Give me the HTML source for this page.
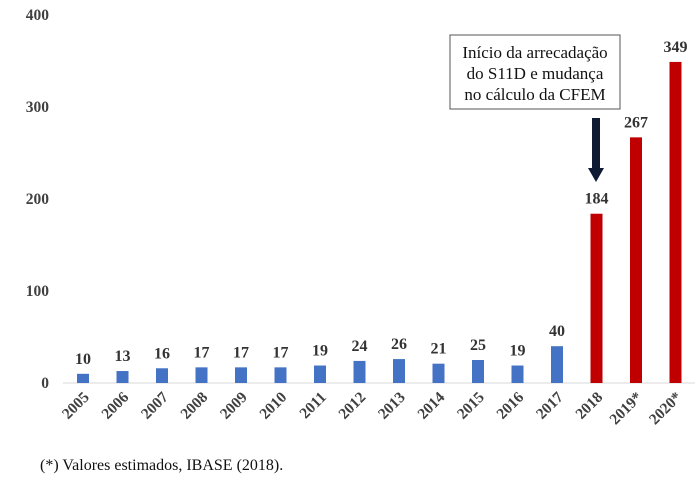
<!DOCTYPE html>
<html><head><meta charset="utf-8"><style>
body{margin:0;background:#fff;}
svg{display:block;font-family:"Liberation Serif",serif;}
</style></head><body>
<svg id="chart" width="700" height="489" viewBox="0 0 700 489">
<line x1="63" y1="383" x2="695" y2="383" stroke="#d9d9d9" stroke-width="1"/>
<g id="yticks"></g><g id="bars"></g>
<g>
<rect x="450" y="35" width="170" height="74" fill="#fff" stroke="#555" stroke-width="1"/>
<text x="535" y="58" text-anchor="middle" font-size="17" fill="#111">Início da arrecadação</text>
<text x="535" y="79" text-anchor="middle" font-size="17" fill="#111">do S11D e mudança</text>
<text x="535" y="100" text-anchor="middle" font-size="17" fill="#111">no cálculo da CFEM</text>
<path d="M592 118 H600 V168 H604 L596 182 L588 168 H592 Z" fill="#0f1a33"/>
</g>
<text x="40" y="470" font-size="16" fill="#111">(*) Valores estimados, IBASE (2018).</text>
</svg>
<script>
const categories=["2005","2006","2007","2008","2009","2010","2011","2012","2013","2014","2015","2016","2017","2018","2019*","2020*"];
const values=[10,13,16,17,17,17,19,24,26,21,25,19,40,184,267,349];
const yTicks=[0,100,200,300,400];
const ns="http://www.w3.org/2000/svg";
const y=v=>383-v*0.92;
const x=i=>83+i*39.5;
const yt=document.getElementById('yticks'), bg=document.getElementById('bars');
function mk(tag,attrs,parent,txt){const e=document.createElementNS(ns,tag);for(const k in attrs)e.setAttribute(k,attrs[k]);if(txt!==undefined)e.textContent=txt;parent.appendChild(e);return e;}
yTicks.forEach(t=>{
 const e=mk('text',{x:49,y:y(t)+5,'text-anchor':'end','font-size':15.5,'font-weight':'bold',fill:'#404040'},yt,String(t));
 
 
});
categories.forEach((c,i)=>{
 const red=i>=13;
 const r=mk('rect',{x:x(i)-6,y:y(values[i]),width:12,height:values[i]*0.92,fill:red?'#c00000':'#4472c4'},bg);
 
 
 const l=mk('text',{x:x(i),y:y(values[i])-10,'text-anchor':'middle','font-size':16,'font-weight':'bold',fill:'#333'},bg,String(values[i]));
 
 
 const xl=mk('text',{x:0,y:0,'text-anchor':'end','font-size':15.5,'font-weight':'bold',fill:'#404040',transform:`translate(${x(i)+7},${398}) rotate(-45)`},bg,c);
 
 
});
</script>
</body></html>
